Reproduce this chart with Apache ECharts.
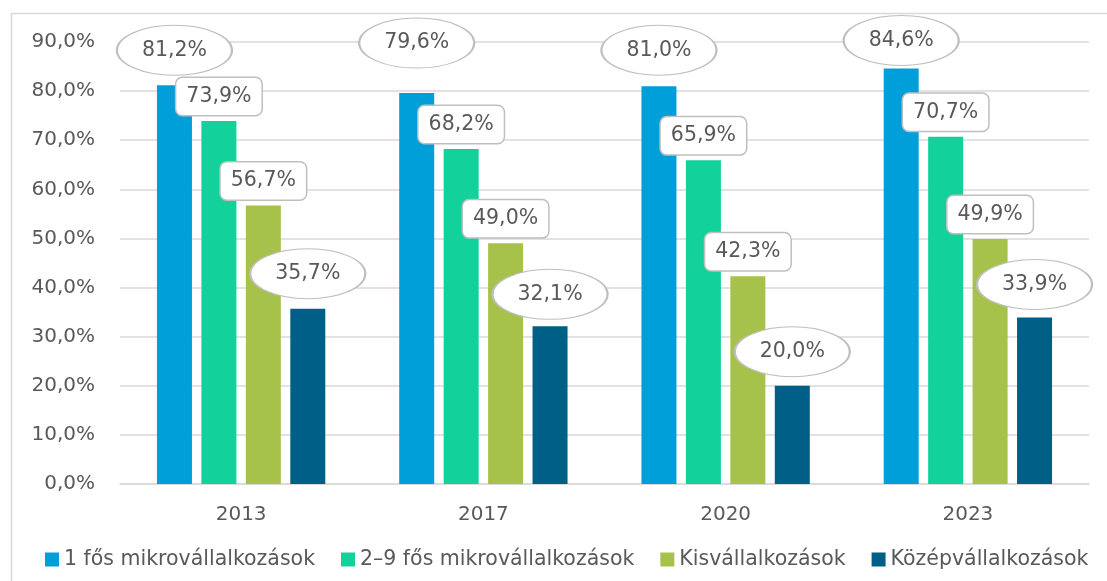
<!DOCTYPE html>
<html>
<head>
<meta charset="UTF-8">
<title>Vállalkozások</title>
<script src="https://cdn.jsdelivr.net/npm/echarts@6/dist/echarts.min.js"></script>
<style>
  html, body { margin: 0; padding: 0; background: #fff; }
  #chart { width: 1107px; height: 581px; }
</style>
</head>
<body>
<div id="chart"></div>
<script>
// adatok
var years = ['2013', '2017', '2020', '2023'];
var seriesNames = ['1 fős mikrovállalkozások', '2–9 fős mikrovállalkozások', 'Kisvállalkozások', 'Középvállalkozások'];
var mikro1 = [81.2, 79.6, 81.0, 84.6];
var mikro29 = [73.9, 68.2, 65.9, 70.7];
var kis = [56.7, 49.0, 42.3, 49.9];
var kozep = [35.7, 32.1, 20.0, 33.9];
var colors = ['#009fd9', '#12d19b', '#a6c24a', '#005f86'];

// címkék emelése a oszlop teteje fölé (px)
var liftMikro1 = [35, 50, 36, 28];
var liftKozep = [35, 32, 34, 33];

var fontFam = '"DejaVu Sans", sans-serif';
var textColor = '#595959';

function fmt(v) {
  return v.toFixed(1).replace('.', ',') + '%';
}

// ellipszis alakú címkék (markPoint)
function ellipseMarks(values, lifts) {
  return {
    symbol: 'circle',
    symbolSize: [115, 50],
    itemStyle: { color: '#fff', borderColor: '#bfbfbf', borderWidth: 1.5 },
    label: {
      show: true,
      color: textColor,
      fontSize: 20.5,
      fontFamily: fontFam,
      formatter: function (p) { return fmt(p.value); }
    },
    data: values.map(function (v, i) {
      return { coord: [i, v], value: v, symbolOffset: [0, -lifts[i]] };
    }),
    animation: false,
    z: 10
  };
}

// lekerekített téglalap címkék
var rectLabel = {
  show: true,
  position: 'top',
  distance: 6,
  color: textColor,
  fontSize: 20.5,
  fontFamily: fontFam,
  backgroundColor: '#fff',
  borderColor: '#bfbfbf',
  borderWidth: 1.5,
  borderRadius: 6,
  padding: [8, 10, 8, 10],
  formatter: function (p) { return fmt(p.value); }
};

var chart = echarts.init(document.getElementById('chart'));
chart.setOption({
  animation: false,
  textStyle: { fontFamily: fontFam },
  color: colors,
  graphic: [{
    type: 'polyline',
    shape: { points: [[11.5, 581], [11.5, 13.5], [1107, 13.5]] },
    style: { fill: null, stroke: '#d9d9d9', lineWidth: 1.5 },
    silent: true
  }],
  grid: { left: 120, right: 18, top: 42, bottom: 97 },
  legend: {
    top: 544,
    left: 40,
    itemWidth: 14,
    itemHeight: 14,
    itemGap: 26,
    icon: 'rect',
    textStyle: { color: textColor, fontSize: 20.5, fontFamily: fontFam },
    data: seriesNames
  },
  xAxis: {
    type: 'category',
    data: years,
    axisLine: { lineStyle: { color: '#d9d9d9', width: 1.5 } },
    axisTick: { show: false },
    axisLabel: { color: textColor, fontSize: 20, margin: 21 }
  },
  yAxis: {
    type: 'value',
    min: 0,
    max: 90,
    interval: 10,
    axisLine: { show: false },
    axisTick: { show: false },
    splitLine: { lineStyle: { color: '#d9d9d9', width: 1.5 } },
    axisLabel: { color: textColor, fontSize: 20, margin: 25, formatter: fmt }
  },
  series: [{
    name: seriesNames[0],
    type: 'bar',
    barWidth: 35,
    barGap: '27%',
    data: mikro1,
    markPoint: ellipseMarks(mikro1, liftMikro1)
  }, {
    name: seriesNames[1],
    type: 'bar',
    barWidth: 35,
    barGap: '27%',
    data: mikro29,
    label: rectLabel,
    z: 3
  }, {
    name: seriesNames[2],
    type: 'bar',
    barWidth: 35,
    barGap: '27%',
    data: kis,
    label: rectLabel,
    z: 3
  }, {
    name: seriesNames[3],
    type: 'bar',
    barWidth: 35,
    barGap: '27%',
    data: kozep,
    markPoint: ellipseMarks(kozep, liftKozep)
  }]
});
</script>
</body>
</html>
